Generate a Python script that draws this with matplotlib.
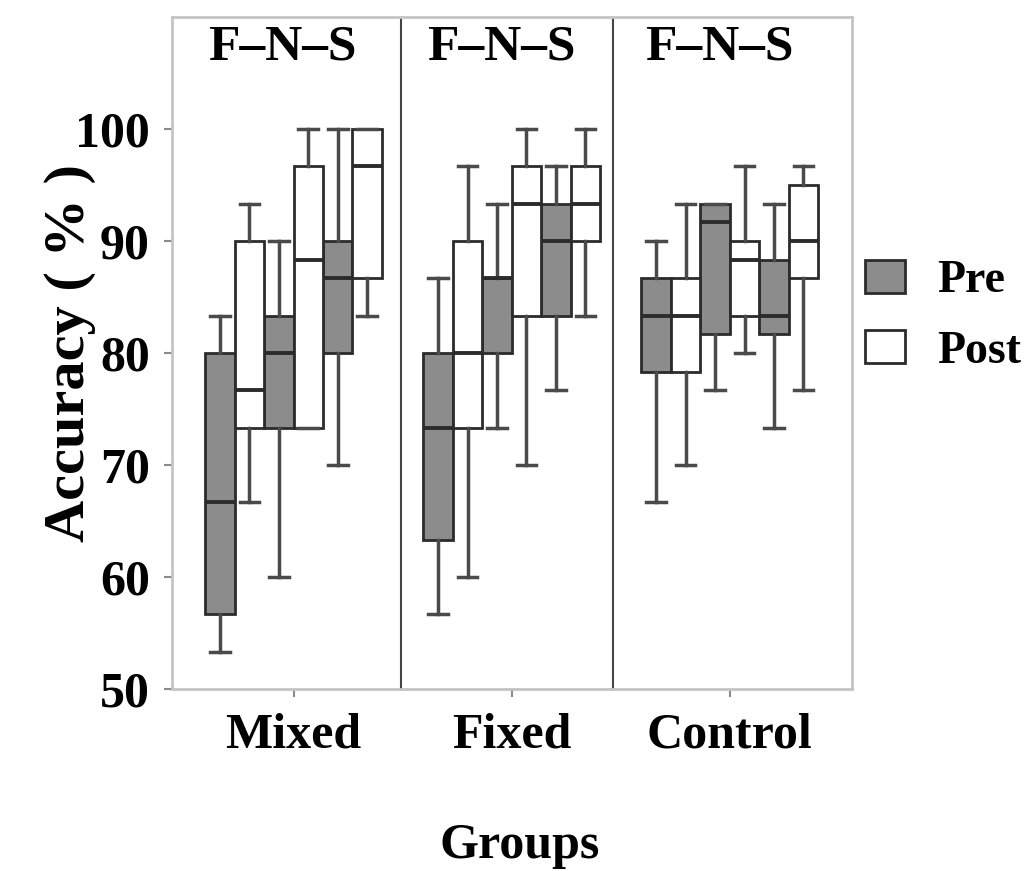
import matplotlib
matplotlib.use('Agg')
import matplotlib.pyplot as plt
from matplotlib.patches import Patch

# values (percent), rows = groups, columns = F, N, S
groups = ['Mixed', 'Fixed', 'Control']
conditions = ['F', 'N', 'S']

pre_lo = [[53.3, 60.0, 70.0], [56.7, 73.3, 76.7], [66.7, 76.7, 73.3]]
pre_q1 = [[56.7, 73.3, 80.0], [63.3, 80.0, 83.3], [78.3, 81.7, 81.7]]
pre_med = [[66.7, 80.0, 86.7], [73.3, 86.7, 90.0], [83.3, 91.7, 83.3]]
pre_q3 = [[80.0, 83.3, 90.0], [80.0, 86.7, 93.3], [86.7, 93.3, 88.3]]
pre_hi = [[83.3, 90.0, 100.0], [86.7, 93.3, 96.7], [90.0, 93.3, 93.3]]

post_lo = [[66.7, 73.3, 83.3], [60.0, 70.0, 83.3], [70.0, 80.0, 76.7]]
post_q1 = [[73.3, 73.3, 86.7], [73.3, 83.3, 90.0], [78.3, 83.3, 86.7]]
post_med = [[76.7, 88.3, 96.7], [80.0, 93.3, 93.3], [83.3, 88.3, 90.0]]
post_q3 = [[90.0, 96.7, 100.0], [90.0, 96.7, 96.7], [86.7, 90.0, 95.0]]
post_hi = [[93.3, 100.0, 100.0], [96.7, 100.0, 100.0], [93.3, 96.7, 96.7]]

y_ticks = [50, 60, 70, 80, 90, 100]

PRE_COLOR = '#8c8c8c'
POST_COLOR = 'white'
EDGE = '#2b2b2b'
WHISK = '#4a4a4a'


def make_stats(lo, q1, med, q3, hi):
    stats = []
    for g in range(len(groups)):
        for c in range(len(conditions)):
            stats.append(dict(whislo=lo[g][c], q1=q1[g][c], med=med[g][c],
                              q3=q3[g][c], whishi=hi[g][c], fliers=[]))
    return stats


def draw_boxes(ax, stats, positions, color):
    ax.bxp(stats, positions=positions, widths=0.135, patch_artist=True,
           showfliers=False, manage_ticks=False, capwidths=0.09,
           boxprops=dict(facecolor=color, edgecolor=EDGE, linewidth=2.0),
           whiskerprops=dict(color=WHISK, linewidth=2.5),
           capprops=dict(color=WHISK, linewidth=2.5),
           medianprops=dict(color=EDGE, linewidth=2.8))


plt.rcParams['font.family'] = ['Liberation Serif', 'DejaVu Serif']
plt.rcParams['font.weight'] = 'bold'

fig = plt.figure(figsize=(10.3, 8.71), dpi=100)
ax = fig.add_axes([0.167, 0.209, 0.660, 0.7715])

base = [g + (c - 1) * 0.27 for g in range(len(groups)) for c in range(len(conditions))]
pre_pos = [b - 0.0675 for b in base]
post_pos = [b + 0.0675 for b in base]

draw_boxes(ax, make_stats(pre_lo, pre_q1, pre_med, pre_q3, pre_hi), pre_pos, PRE_COLOR)
draw_boxes(ax, make_stats(post_lo, post_q1, post_med, post_q3, post_hi), post_pos, POST_COLOR)

# panel dividers
ax.axvline(0.492, color='#444444', linewidth=1.5)
ax.axvline(1.465, color='#444444', linewidth=1.5)

for g in range(len(groups)):
    ax.text(g - 0.05, 0.955, 'F\u2013N\u2013S', transform=ax.get_xaxis_transform(),
            ha='center', va='center', fontsize=37, fontweight='bold')

ax.set_xlim(-0.557, 2.559)
ax.set_ylim(50, 110)
ax.set_xticks(range(len(groups)), groups)
ax.set_yticks(y_ticks)
ax.tick_params(axis='both', labelsize=36, color='#8a8a8a', width=1.5, length=6)
ax.tick_params(axis='y', pad=10)
ax.tick_params(axis='x', pad=11)

for sp in ax.spines.values():
    sp.set_color('#c4c4c4')
    sp.set_linewidth(2)

ax.set_ylabel('Accuracy ( % )', fontsize=42, fontweight='bold')
ax.yaxis.set_label_coords(-0.112, 0.5)
ax.set_xlabel('Groups', fontsize=36, fontweight='bold')
ax.xaxis.set_label_coords(0.512, -0.2)

handles = [Patch(facecolor=PRE_COLOR, edgecolor=EDGE, linewidth=2),
           Patch(facecolor=POST_COLOR, edgecolor=EDGE, linewidth=2)]
fig.legend(handles, ['Pre', 'Post'], loc='upper left', bbox_to_anchor=(0.84, 0.702),
           frameon=False, fontsize=33, handlelength=0.87, handleheight=0.75,
           handletextpad=0.7, labelspacing=0.6, borderpad=0, borderaxespad=0)

fig.savefig('out.png', dpi=100)
